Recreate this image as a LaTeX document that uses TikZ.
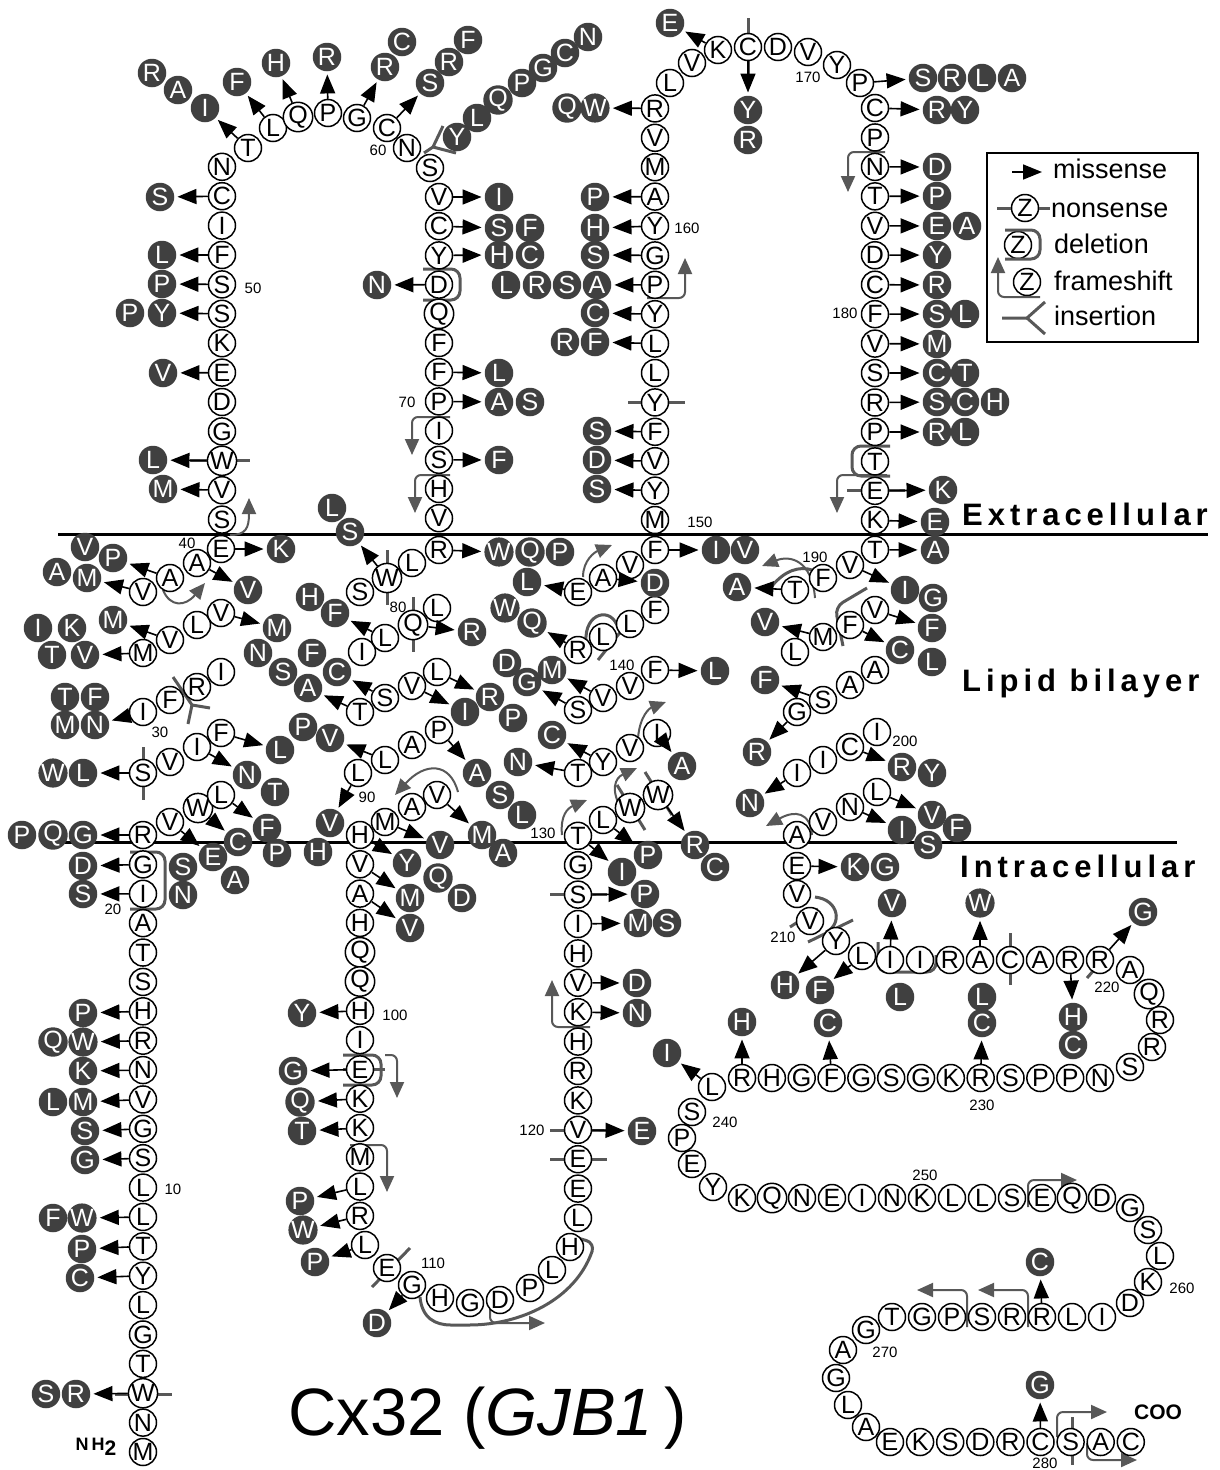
\documentclass[tikz,border=0pt]{standalone}
\usepackage{fontspec}
\setmainfont{Liberation Sans}
\newfontfamily\regionfont[LetterSpace=16]{Liberation Sans}
\usetikzlibrary{arrows.meta}

\definecolor{mutgray}{RGB}{64,64,64}
\definecolor{symgray}{RGB}{88,88,88}
\pgfdeclarelayer{back}
\pgfsetlayers{back,main}

\tikzset{
  res/.style={circle, draw, line width=1.5pt, fill=white, minimum size=27pt,
    inner sep=0pt, font=\fontsize{25}{25}\selectfont},
  mut/.style={circle, fill=mutgray, text=white, minimum size=28.5pt,
    inner sep=0pt, font=\fontsize{25}{25}\selectfont},
  mis/.style={-{Triangle[length=19pt,width=15pt]}, line width=1.6pt, shorten >=3pt},
  nons/.style={symgray, line width=3pt},
  dele/.style={symgray, line width=3pt, rounded corners=9pt},
  fshift/.style={symgray, line width=2pt, rounded corners=6pt,
    -{Triangle[length=16pt,width=14pt]}},
  ins/.style={symgray, line width=3pt},
  membrane/.style={line width=3pt},
  num/.style={font=\fontsize{15}{15}\selectfont, inner sep=0pt},
  region/.style={font=\regionfont\bfseries\fontsize{31}{31}\selectfont,
    anchor=base west, inner sep=0pt},
  legtext/.style={font=\fontsize{27}{27}\selectfont, anchor=base west, inner sep=0pt},
}

\begin{document}
\begin{tikzpicture}[x=1pt, y=-1pt]
\useasboundingbox (0,0) rectangle (1220,1470);

% membrane
\coordinate (memA1) at (58,534);
\coordinate (memA2) at (1208,534);
\coordinate (memB1) at (62,842);
\coordinate (memB2) at (1177,842);
\begin{pgfonlayer}{back}
\draw[membrane] (memA1) -- (memA2);
\draw[membrane] (memB1) -- (memB2);
\end{pgfonlayer}

% residues, straight stretches
\foreach \a [count=\i] in {M,N,W,T,G,L,Y,T,L,L,S,G,V,N,R,H,S,T,A,I,G,R}
  \node[res] (r\i) at (143,{1452-(\i-1)*29.38}) {\a};
\foreach \a [count=\i from 42] in {S,V,W,G,D,E,K,S,S,F,I,C,N}
  \node[res] (r\i) at (222,{549-(\i-41)*29.4}) {\a};
\foreach \a [count=\i from 63] in {V,C,Y,D,Q,F,F,P,I,S,H,V}
  \node[res] (r\i) at (439,{197+(\i-63)*29.2}) {\a};
\foreach \a [count=\i from 95] in {V,A,H,Q,Q,H,I,E,K,K,M,L,R}
  \node[res] (r\i) at (360,{835+(\i-94)*29.3}) {\a};
\foreach \a [count=\i from 118] in {E,E,V,K,R,H,K,V,H,I,S,G,T}
  \node[res] (r\i) at (578,{1218-(\i-117)*29.4}) {\a};
\foreach \a [count=\i from 150] in {M,Y,V,F,Y,L,L,Y,P,G,Y,A,M,V,R}
  \node[res] (r\i) at (655,{520-(\i-150)*29.4}) {\a};
\foreach \a [count=\i from 173] in {C,P,N,T,V,D,C,F,V,S,R,P,T,E,K,T}
  \node[res] (r\i) at (875,{108+(\i-173)*29.45}) {\a};
\foreach \a [count=\i from 213] in {I,I,R,A,C,A,R,R}
  \node[res] (r\i) at ({890+(\i-213)*30},960) {\a};
\foreach \a [count=\i from 226] in {N,P,P,S,R,K,G,S,G,F,G,H,R}
  \node[res] (r\i) at ({1100-(\i-226)*29.83},1078) {\a};
\foreach \a [count=\i from 244] in {K,Q,N,E,I,N,K,L,L,S,E,Q,D}
  \node[res] (r\i) at ({742+(\i-244)*30},1198) {\a};
\foreach \a [count=\i from 262] in {I,L,R,R,S,P,G,T}
  \node[res] (r\i) at ({1102-(\i-262)*30},1317) {\a};
\foreach \a [count=\i from 275] in {E,K,S,D,R,C,S,A,C}
  \node[res] (r\i) at ({890+(\i-275)*30.1},1442) {\a};

% residues, helices and turns
\foreach \n/\x/\y/\a in {23/170/822/V, 24/198/808/W, 25/221/795/L, 26/143/773/S,
    27/170/762/V, 28/197/747/I, 29/221/733/F, 30/143/712/I, 31/170/700/F,
    32/197/687/R, 33/221/672/I, 34/143/653/M, 35/170/640/V, 36/197/625/L,
    37/221/613/V, 38/143/592/V, 39/170/578/A, 40/197/563/A, 41/221/549/E,
    55/248/148/T, 56/273/128/L, 57/298/117/Q, 58/328/113/P, 59/357/118/G,
    60/387/128/C, 61/407/148/N, 62/430/168/S,
    75/439/550/R, 76/412/563/L, 77/387/578/W, 78/360/592/S, 79/437/608/L,
    80/413/625/Q, 81/385/638/L, 82/362/652/I, 83/437/672/L, 84/412/686/V,
    85/385/698/S, 86/360/712/T, 87/439/730/P, 88/412/745/A, 89/385/760/L,
    90/358/773/L, 91/437/795/V, 92/412/807/A, 93/385/822/M, 94/360/835/H,
    108/365/1245/L, 109/387/1268/E, 110/412/1285/G, 111/440/1298/H,
    112/470/1303/G, 113/500/1300/D, 114/530/1288/P, 115/552/1270/L,
    116/570/1247/H, 117/578/1218/L,
    131/603/820/L, 132/630/808/W, 133/658/795/W, 134/578/773/T, 135/603/762/Y,
    136/630/748/V, 137/657/733/I, 138/578/710/S, 139/603/698/V, 140/630/686/V,
    141/655/670/F, 142/578/650/R, 143/603/637/L, 144/630/624/L, 145/655/610/F,
    146/578/592/E, 147/603/578/A, 148/630/565/V, 149/655/550/F,
    165/670/83/L, 166/692/63/V, 167/718/50/K, 168/748/47/C, 169/778/47/D,
    170/808/52/V, 171/837/65/Y, 172/860/83/P,
    189/850/565/V, 190/823/578/F, 191/795/590/T, 192/875/610/V, 193/850/625/F,
    194/823/637/M, 195/795/652/L, 196/875/670/A, 197/850/685/A, 198/823/700/S,
    199/797/712/G, 200/877/732/I, 201/850/747/C, 202/823/760/I, 203/797/773/I,
    204/877/792/L, 205/850/807/N, 206/823/822/V, 207/797/835/A,
    208/797/866/E, 209/797/894/V, 210/810/921/V, 211/836/941/Y, 212/862/956/L,
    221/1130/970/A, 222/1149/994/Q, 223/1160/1020/R, 224/1152/1047/R,
    225/1130/1067/S,
    239/712/1087/L, 240/692/1112/S, 241/682/1138/P, 242/692/1164/E, 243/713/1187/Y,
    257/1130/1208/G, 258/1148/1230/S, 259/1160/1256/L, 260/1148/1282/K,
    261/1130/1303/D,
    270/866/1330/G, 271/843/1350/A, 272/836/1378/G, 273/848/1405/L, 274/866/1427/A}
  \node[res] (r\n) at (\x,\y) {\a};

% mutant residues
\foreach \n/\x/\y/\a in {3-1/76/1394/R, 3-2/46/1394/S, 7-1/80/1278/C, 8-1/82/1249/P,
    9-1/82/1218/W, 9-2/53/1218/F, 11-1/85/1160/G, 12-1/85/1131/S,
    13-1/83/1102/M, 13-2/53/1102/L, 14-1/83/1071/K, 15-1/83/1042/W, 15-2/53/1042/Q,
    16-1/83/1013/P, 20-1/83/894/S, 21-1/83/866/D,
    22-1/83/835/G, 22-2/53/835/Q, 22-3/22/835/P, del-1/183/867/S, del-2/183/895/N,
    23-1/213/857/E, 23-2/235/880/A, 24-1/238/842/C, 25-1/267/828/F, 25-2/277/853/P,
    26-1/83/773/L, 26-2/53/773/W, 28-1/247/775/N, 28-2/275/792/T, 29-1/280/750/L,
    30-1/95/725/N, 30-2/65/725/M, 30-3/95/697/F, 30-4/65/697/T,
    34-1/85/655/V, 34-2/52/655/T, 34-3/72/628/K, 34-4/38/628/I,
    35-1/113/620/M, 37-1/277/628/M, 38-1/87/578/M, 38-2/57/572/A,
    39-1/113/558/P, 39-2/85/547/V, 40-1/248/590/V, 41-1/281/549/K,
    43-1/163/489/M, 44-1/153/460/L, 47-1/163/373/V, 49-1/162/313/Y, 49-2/130/313/P,
    50-1/162/284/P, 51-1/162/255/L, 53-1/160/197/S,
    55-1/205/108/I, 55-2/178/90/A, 55-3/152/73/R, 56-1/237/82/F, 57-1/276/63/H,
    58-1/327/57/R, 59-1/385/67/R, 59-2/402/42/C,
    60-1/430/83/S, 60-2/449/62/R, 60-3/468/40/F,
    ins-1/457/137/Y, ins-2/477/118/L, ins-3/498/100/Q, ins-4/522/83/P,
    ins-5/543/68/G, ins-6/565/53/C, ins-7/588/37/N,
    63-1/499/197/I, 64-1/499/228/S, 64-2/530/228/F, 65-1/499/255/H, 65-2/530/255/C,
    66-1/377/285/N, 69-1/499/373/L, 70-1/499/402/A, 70-2/530/402/S, 72-1/499/460/F,
    75-1/499/552/W, 75-2/530/552/Q, 75-3/560/552/P,
    77-1/350/532/S, 77-2/332/508/L, 80-1/472/632/R, 81-1/335/613/F, 81-2/310/597/H,
    83-1/490/697/R, 83-2/513/718/P, 84-1/465/712/I, 85-1/337/672/C, 85-2/312/653/F,
    86-1/308/688/A, 86-2/283/672/S, 86-3/258/653/N,
    87-1/477/773/A, 87-2/500/795/S, 87-3/522/815/L,
    89-1/330/738/V, 89-2/303/727/P, 90-1/330/823/V, 90-2/318/852/H,
    91-1/482/835/M, 91-2/503/853/A, 93-1/440/845/V,
    94-1/407/863/Y, 94-2/438/878/Q, 94-3/462/898/D, 95-1/410/898/M, 96-1/410/928/V,
    100-1/302/1013/Y, 102-1/293/1071/G, 103-1/300/1102/Q, 104-1/302/1131/T,
    106-1/300/1201/P, 107-1/303/1230/W, 108-1/315/1262/P, 110-1/377/1323/D,
    120-1/642/1131/E, 124-1/637/1013/N, 125-1/637/983/D,
    127-1/638/923/M, 127-2/667/923/S, 128-1/645/894/P, 130-1/622/872/I,
    131-1/648/855/P, 133-1/695/845/R, 133-2/715/867/C, 134-1/518/762/N,
    135-1/552/735/C, 137-1/682/766/A, 138-1/527/682/G, 138-2/507/663/D,
    139-1/552/670/M, 141-1/715/671/L, 142-1/532/623/Q, 142-2/505/608/W,
    146-1/527/582/L, 147-1/655/583/D, 149-1/716/550/I, 149-2/745/550/V,
    151-1/597/489/S, 152-1/597/460/D, 153-1/597/431/S,
    156-1/595/342/F, 156-2/565/342/R, 157-1/595/313/C,
    158-1/597/285/A, 158-2/567/285/S, 158-3/537/285/R, 158-4/506/285/L,
    159-1/595/255/S, 160-1/595/228/H, 161-1/595/197/P,
    164-1/595/108/W, 164-2/567/108/Q, 167-1/670/23/E,
    168-1/748/110/Y, 168-2/748/140/R,
    172-1/923/78/S, 172-2/952/78/R, 172-3/982/78/L, 172-4/1012/78/A,
    173-1/937/110/R, 173-2/965/110/Y, 175-1/937/167/D, 176-1/937/196/P,
    177-1/937/226/E, 177-2/967/226/A, 178-1/937/255/Y, 179-1/937/285/R,
    180-1/937/314/S, 180-2/965/314/L, 181-1/937/344/M,
    182-1/937/373/C, 182-2/965/373/T, 183-1/937/402/S, 183-2/965/402/C,
    183-3/995/402/H, 184-1/937/432/R, 184-2/965/432/L,
    186-1/943/490/K, 187-1/935/522/E, 188-1/935/550/A,
    189-1/905/590/I, 189-2/933/598/G, 191-1/737/587/A, 192-1/932/628/F,
    193-1/900/650/C, 193-2/932/662/L, 194-1/765/622/V, 198-1/765/680/F,
    199-1/757/752/R, 201-1/902/767/R, 201-2/932/773/Y, 203-1/750/803/N,
    204-1/932/815/V, 204-2/957/828/F, 205-1/902/830/I, 205-2/928/845/S,
    208-1/855/867/K, 208-2/885/867/G, 211-1/785/985/H, 212-1/820/990/F,
    213-1/892/903/V, 213-9/900/997/L, 216-1/980/903/W,
    219-1/1073/1017/H, 219-2/1073/1045/C, 220-1/1143/912/G,
    230-1/982/1023/C, 230-2/982/997/L, 235-1/828/1023/C, 238-1/742/1022/H,
    239-1/667/1053/I, 264-1/1040/1262/C, 280-1/1040/1385/G}
  \node[mut] (m\n) at (\x,\y) {\a};

% missense
\foreach \s in {3,7,8,9,11,12,13,14,15,16,20,21,22,23,24,25,26,28,29,30,34,35,37,
    38,39,40,41,43,44,47,49,50,51,53,55,56,57,58,59,60,63,64,65,66,69,70,72,75,
    77,80,81,83,84,85,86,87,89,90,91,93,94,95,96,100,102,103,104,106,107,108,110,
    120,124,125,127,128,130,131,133,134,135,137,138,139,141,142,146,147,149,151,
    152,153,156,157,158,159,160,161,164,167,168,172,173,175,176,177,178,179,180,
    181,182,183,184,186,187,188,189,191,192,193,194,198,199,201,203,204,205,208,
    211,212,213,216,219,220,230,235,238,239,264,280}
  \draw[mis] (r\s) -- (m\s-1);

\begin{pgfonlayer}{back}
% nonsense
\draw[nons] (115,1394) -- (172,1394);
\draw[nons] (143,747) -- (143,800);
\draw[nons] (190,460) -- (250,460);
\draw[nons] (387,550) -- (387,605);
\draw[nons] (413,597) -- (413,652);
\draw[nons] (343,1069) -- (385,1069);
\draw[nons] (372,1287) -- (410,1248);
\draw[nons] (550,1159) -- (607,1159);
\draw[nons] (550,1130) -- (607,1130);
\draw[nons] (550,894) -- (607,894);
\draw[nons] (617,785) -- (645,830);
\draw[nons] (645,772) -- (672,815);
\draw[nons] (628,402) -- (685,402);
\draw[nons] (748,18) -- (748,78);
\draw[nons] (847,490) -- (905,490);
\draw[nons] (790,927) -- (818,909);
\draw[nons] (808,942) -- (853,920);
\draw[nons] (1010,933) -- (1010,985);
\draw[nons] (1087,978) -- (1107,955);
\draw[nons] (1072,1417) -- (1072,1465);
% deletion
\draw[dele] (130,852) -- (165,852) -- (165,909) -- (130,909);
\draw[dele] (423,269) -- (460,269) -- (460,300) -- (423,300);
\draw[dele] (343,1055) -- (381,1055) -- (381,1085) -- (343,1085);
\draw[dele] (890,446) -- (852,446) -- (852,476) -- (890,476);
\draw[dele] (878,942) -- (878,972) -- (936,972) -- (936,955);
\draw[dele] (867,588) -- (835,607) -- (843,646);
\draw[dele] (815,897) .. controls (840,900) and (842,925) .. (826,932);
\draw[dele] (586,642) .. controls (584,612) and (612,606) .. (618,628);
\draw[dele] (598,660) -- (622,630);
\draw[dele] (772,586) .. controls (785,570) and (800,566) .. (812,570);
\draw[dele] (567,1235) -- (595,1243) .. controls (575,1300) and (520,1325) .. (460,1325)
  .. controls (435,1325) and (422,1318) .. (420,1297);
% insertion
\draw[ins] (173,677) -- (192,705) -- (210,708);
\draw[ins] (192,705) -- (188,724);
\draw[ins] (424,153) -- (433,147) -- (443,126);
\draw[ins] (433,147) -- (456,153);
% frameshift
\draw[fshift] (230,535) .. controls (246,535) and (249,528) .. (249,498);
\draw[fshift] (163,590) .. controls (170,607) and (185,607) .. (205,583);
\draw[fshift] (450,417) -| (412,455);
\draw[fshift] (450,475) -| (415,513);
\draw[fshift] (458,792) .. controls (450,762) and (425,762) .. (395,795);
\draw[fshift] (385,1055) -| (397,1098);
\draw[fshift] (350,1145) -| (387,1192);
\draw[fshift] (490,1306) |- (545,1323);
\draw[fshift] (590,1027) -| (552,980);
\draw[fshift] (562,835) .. controls (560,815) and (568,808) .. (587,800);
\draw[fshift] (622,810) .. controls (610,790) and (615,778) .. (637,768);
\draw[fshift] (638,738) .. controls (640,715) and (650,708) .. (666,702);
\draw[fshift] (583,577) .. controls (583,560) and (595,552) .. (612,545);
\draw[fshift] (647,298) -| (685,258);
\draw[fshift] (885,152) -| (848,192);
\draw[fshift] (887,475) -| (837,513);
\draw[fshift] (815,598) .. controls (812,560) and (790,555) .. (762,566);
\draw[fshift] (812,835) .. controls (810,812) and (795,810) .. (766,826);
\draw[fshift] (1028,1207) |- (1077,1180);
\draw[fshift] (1028,1327) |- (978,1290);
\draw[fshift] (967,1327) |- (917,1290);
\draw[fshift] (1057,1437) |- (1107,1412);
\draw[fshift] (1087,1443) |- (1137,1460);
\end{pgfonlayer}

% numbering
\foreach \k/\x/\y in {10/173/1189, 20/113/909, 30/160/732, 40/187/543, 50/253/288,
    60/378/150, 70/407/402, 80/398/607, 90/367/797, 100/395/1015, 110/433/1263,
    120/532/1130, 130/543/833, 140/622/665, 150/700/522, 160/687/228, 170/808/77,
    180/845/313, 190/815/557, 200/905/741, 210/783/937, 220/1107/987,
    230/982/1105, 240/725/1122, 250/925/1175, 260/1182/1288, 270/885/1352,
    280/1045/1463}
  \node[num] (n\k) at (\x,\y) {\k};

% termini and regions
\node[font=\bfseries\fontsize{18}{18}\selectfont, inner sep=0pt] (nterm) at (96,1447)
  {N\,H\raisebox{-5pt}{\fontsize{21}{21}\selectfont 2}};
\node[font=\bfseries\fontsize{21}{21}\selectfont, inner sep=0pt] (cterm) at (1158,1412) {COO};
\node[region] (extra) at (962,525) {Extracellular};
\node[region] (lipid) at (962,691) {Lipid bilayer};
\node[region] (intra) at (960,877) {Intracellular};
\node[font=\fontsize{67}{67}\selectfont, anchor=base west, inner sep=0pt] (title)
  at (288,1435) {Cx32 (\textit{GJB1}\,)};

% legend
\node[draw, line width=1.4pt, minimum width=211pt, minimum height=189pt, inner sep=0pt]
  (legend) at (1092.5,247.5) {};
\coordinate (lgm1) at (1012,172);
\coordinate (lgm2) at (1042,172);
\draw[mis, shorten >=0pt] (lgm1) -- (lgm2);
\node[legtext] (lgt1) at (1053,178) {missense};
\node[res] (lgz2) at (1025,208) {Z};
\coordinate (lgn1) at (997,208);
\coordinate (lgn2) at (1050,208);
\draw[nons] (lgn1) -- (lgz2.west);
\draw[nons] (lgz2.east) -- (lgn2);
\node[legtext] (lgt2) at (1051,217) {nonsense};
\node[res] (lgz3) at (1018,245) {Z};
\draw[dele] (1005,230) -- (1040,230) -- (1040,259) -- (1005,259);
\node[legtext] (lgt3) at (1054,253) {deletion};
\node[res] (lgz4) at (1027,282) {Z};
\draw[fshift] (1040,297) -| (998,257);
\node[legtext] (lgt4) at (1054,290) {frameshift};
\coordinate (lgi1) at (1002,318);
\coordinate (lgi2) at (1027,318);
\draw[ins] (lgi1) -- (lgi2) -- (1045,302);
\draw[ins] (lgi2) -- (1045,334);
\node[legtext] (lgt5) at (1054,325) {insertion};
\end{tikzpicture}
\end{document}
